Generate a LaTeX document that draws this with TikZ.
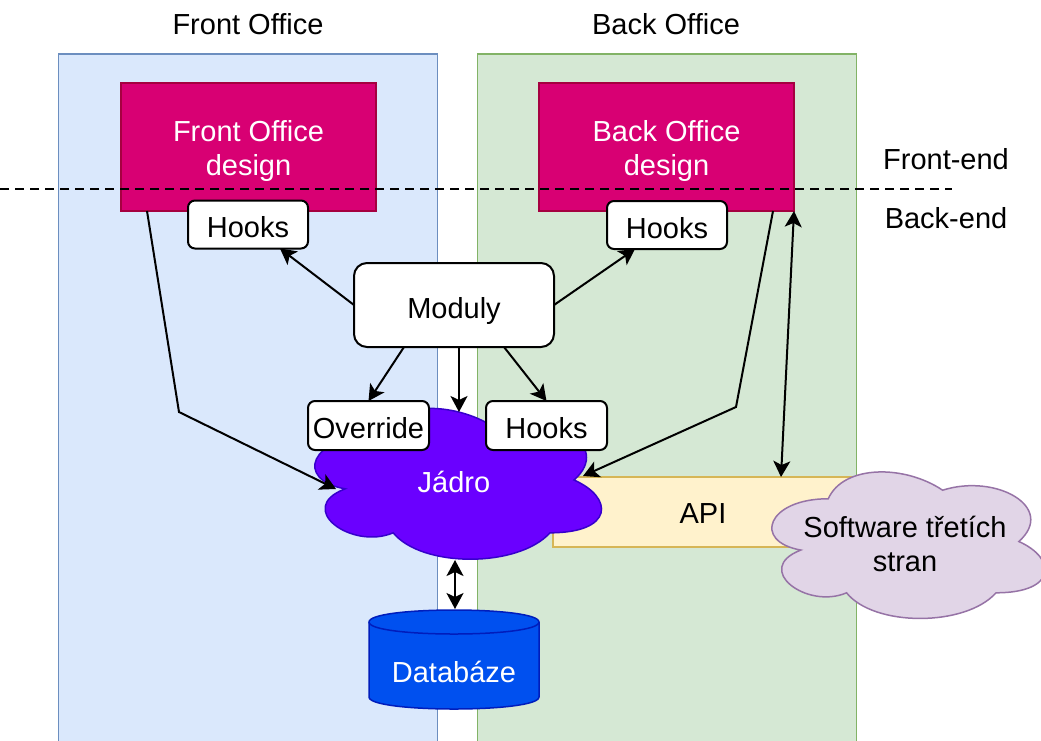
\documentclass[tikz,border=0pt]{standalone}
\usepackage{fontspec}
\setmainfont{Liberation Sans}
\usetikzlibrary{arrows.meta}
\definecolor{foFill}{HTML}{DAE8FC}
\definecolor{foStroke}{HTML}{6C8EBF}
\definecolor{boFill}{HTML}{D5E8D4}
\definecolor{boStroke}{HTML}{82B366}
\definecolor{dsFill}{HTML}{D80073}
\definecolor{dsStroke}{HTML}{A50040}
\definecolor{apiFill}{HTML}{FFF2CC}
\definecolor{apiStroke}{HTML}{D6B656}
\definecolor{jdFill}{HTML}{6A00FF}
\definecolor{jdStroke}{HTML}{3700CC}
\definecolor{swFill}{HTML}{E1D5E7}
\definecolor{swStroke}{HTML}{9673A6}
\definecolor{dbFill}{HTML}{0050EF}
\definecolor{dbStroke}{HTML}{001DBC}
\newcommand\mycloudpath[4]{%
({#1+0.25*#3},{#2+0.25*#4}) .. controls ({#1+0.05*#3},{#2+0.25*#4}) and ({#1},{#2+0.5*#4}) .. ({#1+0.16*#3},{#2+0.55*#4})
.. controls ({#1},{#2+0.66*#4}) and ({#1+0.18*#3},{#2+0.9*#4}) .. ({#1+0.31*#3},{#2+0.8*#4})
.. controls ({#1+0.4*#3},{#2+#4}) and ({#1+0.7*#3},{#2+#4}) .. ({#1+0.8*#3},{#2+0.8*#4})
.. controls ({#1+#3},{#2+0.8*#4}) and ({#1+#3},{#2+0.6*#4}) .. ({#1+0.875*#3},{#2+0.5*#4})
.. controls ({#1+#3},{#2+0.3*#4}) and ({#1+0.8*#3},{#2+0.1*#4}) .. ({#1+0.625*#3},{#2+0.2*#4})
.. controls ({#1+0.5*#3},{#2+0.05*#4}) and ({#1+0.3*#3},{#2+0.05*#4}) .. ({#1+0.25*#3},{#2+0.25*#4}) -- cycle}
\begin{document}
\begin{tikzpicture}[x=1pt,y=-1pt,
  every node/.style={font=\fontsize{29}{34}\selectfont, inner sep=0pt, outer sep=0pt},
  container/.style={line width=1.5pt, minimum width=379pt, minimum height=692pt},
  design/.style={fill=dsFill, draw=dsStroke, line width=1.5pt, minimum width=255pt, minimum height=128pt},
  designtxt/.style={text=white, align=center},
  wbox/.style={fill=white, draw=black, line width=2pt, rounded corners=7pt, minimum width=120pt, minimum height=48pt, text height=26pt, text depth=0pt},
  conn/.style={line width=2pt, -{Stealth[length=16pt,width=17pt,inset=4pt]}},
  dconn/.style={line width=2pt, {Stealth[length=16pt,width=17pt,inset=4pt]}-{Stealth[length=16pt,width=17pt,inset=4pt]}},
  dashline/.style={line width=1.8pt, dash pattern=on 9pt off 6pt}
]
\clip (0,0) rectangle (1041,740);
% containers
\node[container, fill=foFill, draw=foStroke] (fo) at (248,400) {};
\node[container, fill=boFill, draw=boStroke] (bo) at (667,400) {};
\node (fot) at (248,24) {Front Office};
\node (bot) at (666,24) {Back Office};
% design boxes
\node[design] (fod) at (248.5,147) {};
\node[design] (bod) at (666.5,147) {};
\node[designtxt] (fodt) at (248.5,151) {Front Office\\design};
\node[designtxt] (bodt) at (666.5,151) {Back Office\\design};
% dashed line
\coordinate (dl) at (0,189);
\coordinate (dr) at (952,189);
\draw[dashline] (dl) -- (dr);
\node (fe) at (946,159) {Front-end};
\node (be) at (946,218) {Back-end};
% hooks top
\node[wbox] (hl) at (248,224.5) {Hooks};
\node[wbox] (hr) at (667,225) {Hooks};
% moduly
\node[wbox, rounded corners=13pt, minimum width=200pt, minimum height=84pt] (mod) at (454,305) {Moduly};
% API
\node[fill=apiFill, draw=apiStroke, line width=1.5pt, minimum width=300pt, minimum height=70pt] (api) at (703,512) {};
\node (apit) at (703,514) {API};
% Jadro cloud
\draw[fill=jdFill, draw=jdStroke, line width=1.5pt] \mycloudpath{294}{392}{320}{176};
\node[text=white] (jd) at (454,482) {Jádro};
% override / hooks mid
\node[wbox, minimum width=121pt, minimum height=49pt] (ov) at (368.5,425.5) {Override};
\node[wbox, minimum width=121pt, minimum height=49pt] (hm) at (546.5,425.5) {Hooks};
% software cloud
\draw[fill=swFill, draw=swStroke, line width=1.5pt] \mycloudpath{752}{456}{305}{171};
\node[align=center] (sw) at (905,544) {Software třetích\\stran};
% database
\draw[fill=dbFill, draw=dbStroke, line width=1.5pt] (369,622) -- (369,697) .. controls (369,713) and (539,713) .. (539,697) -- (539,622) .. controls (539,606) and (369,606) .. (369,622) -- cycle;
\draw[draw=dbStroke, line width=1.5pt] (369,622) .. controls (369,638) and (539,638) .. (539,622);
\node[text=white] (db) at (454,672) {Databáze};
% coordinates
\coordinate (jTop) at (459,412);
\coordinate (fb) at (179,412);
\coordinate (jL) at (336,489);
\coordinate (bb) at (736,407);
\coordinate (jR) at (583,476);
\coordinate (jBot) at (455,560);
\coordinate (dbTop) at (455,609);
% connectors
\draw[conn] (mod.west) -- ([xshift=32pt]hl.south);
\draw[conn] (mod.east) -- ([xshift=-32pt]hr.south);
\draw[conn] ([xshift=50pt]mod.south west) -- (ov.north);
\draw[conn] ([xshift=5pt]mod.south) -- (jTop);
\draw[conn] ([xshift=-50pt]mod.south east) -- (hm.north);
\draw[conn] ([xshift=-101.5pt]fod.south) -- (fb) -- (jL);
\draw[conn] ([xshift=106.5pt]bod.south) -- (bb) -- (jR);
\draw[dconn] (bod.south east) -- ([xshift=-72pt]api.north east);
\draw[dconn] (jBot) -- (dbTop);
\end{tikzpicture}
\end{document}
